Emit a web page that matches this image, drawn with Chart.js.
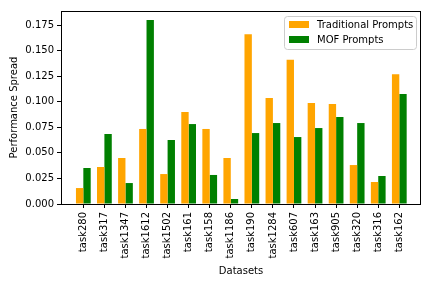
<!DOCTYPE html>
<html>
<head>
<meta charset="utf-8">
<script src="https://cdn.jsdelivr.net/npm/chart.js@4"></script>
<style>
  body { margin: 0; background: #fff; }
</style>
</head>
<body>
<canvas id="myChart" width="432" height="288"></canvas>
<script>
// data
const labels = ["task280", "task317", "task1347", "task1612", "task1502", "task161", "task158", "task1186",
  "task190", "task1284", "task607", "task163", "task905", "task320", "task316", "task162"];
const tradValues = [0.0156, 0.0362, 0.045, 0.0734, 0.0293, 0.090, 0.0734, 0.045,
  0.166, 0.1037, 0.141, 0.0988, 0.0978, 0.0381, 0.0215, 0.127];
const mofValues = [0.0352, 0.0685, 0.0205, 0.180, 0.0626, 0.0782, 0.0284, 0.0049,
  0.0694, 0.0792, 0.0655, 0.0743, 0.0851, 0.0792, 0.0274, 0.1076];
const yTicks = [0, 0.025, 0.05, 0.075, 0.1, 0.125, 0.15, 0.175];

Chart.defaults.font.family = "'DejaVu Sans'";
Chart.defaults.font.size = 10;
Chart.defaults.color = "#000";

// box around the plot, like matplotlib spines
const frame = {
  id: "frame",
  afterDraw(chart) {
    const { ctx, chartArea: a } = chart;
    ctx.save();
    ctx.strokeStyle = "#000";
    ctx.lineWidth = 1;
    ctx.strokeRect(a.left + 0.5, a.top + 0.5, a.right - a.left - 1, a.bottom - a.top);
    ctx.restore();
  }
};

// legend in the upper right corner of the plot
const boxLegend = {
  id: "boxLegend",
  afterDatasetsDraw(chart) {
    const { ctx, chartArea: a } = chart;
    const w = 132, h = 33;
    const x = a.right - 5 - w, y = a.top + 5;
    ctx.save();
    ctx.fillStyle = "rgba(255,255,255,0.8)";
    ctx.strokeStyle = "#cccccc";
    ctx.lineWidth = 1;
    ctx.beginPath();
    ctx.roundRect(x + 0.5, y + 0.5, w, h, 3);
    ctx.fill();
    ctx.stroke();
    ctx.font = "10px 'DejaVu Sans'";
    ctx.textBaseline = "middle";
    chart.data.datasets.forEach((ds, i) => {
      const rowY = y + 5 + i * 15;
      ctx.fillStyle = ds.backgroundColor;
      ctx.fillRect(x + 5, rowY, 20, 7);
      ctx.fillStyle = "#000";
      ctx.fillText(ds.label, x + 33, rowY + 4);
    });
    ctx.restore();
  }
};

const ctx = document.getElementById("myChart");

new Chart(ctx, {
  type: "bar",
  data: {
    datasets: [
      {
        label: "Traditional Prompts",
        backgroundColor: "#FFA500",
        data: tradValues.map((v, i) => ({ x: i, y: v }))
      },
      {
        label: "MOF Prompts",
        backgroundColor: "#008000",
        data: mofValues.map((v, i) => ({ x: i, y: v }))
      }
    ]
  },
  options: {
    responsive: false,
    animation: false,
    categoryPercentage: 0.7,
    barPercentage: 1.0,
    layout: { padding: { top: 11, right: 11, left: 0, bottom: 0 } },
    plugins: {
      legend: { display: false },
      tooltip: { enabled: false }
    },
    scales: {
      x: {
        type: "linear",
        offset: false,
        min: -1.06,
        max: 16.03,
        afterBuildTicks: (scale) => { scale.ticks = labels.map((_, i) => ({ value: i })); },
        afterFit: (scale) => { scale.height = 84; },
        ticks: {
          autoSkip: false,
          minRotation: 90,
          maxRotation: 90,
          padding: 4,
          callback: (v) => labels[v]
        },
        grid: { offset: false, drawOnChartArea: false, drawTicks: true, tickLength: 4, color: "#000" },
        border: { display: false },
        title: { display: true, text: "Datasets", padding: { top: 4, bottom: 11 } }
      },
      y: {
        min: 0,
        max: 0.1888,
        afterBuildTicks: (scale) => { scale.ticks = yTicks.map((v) => ({ value: v })); },
        afterFit: (scale) => { scale.width = 61; },
        ticks: {
          padding: 3,
          callback: (v) => v.toFixed(3)
        },
        grid: { drawOnChartArea: false, drawTicks: true, tickLength: 4, color: "#000" },
        border: { display: false },
        title: { display: true, text: "Performance Spread", padding: { top: 8, bottom: 4 } }
      }
    }
  },
  plugins: [frame, boxLegend]
});
</script>
</body>
</html>
